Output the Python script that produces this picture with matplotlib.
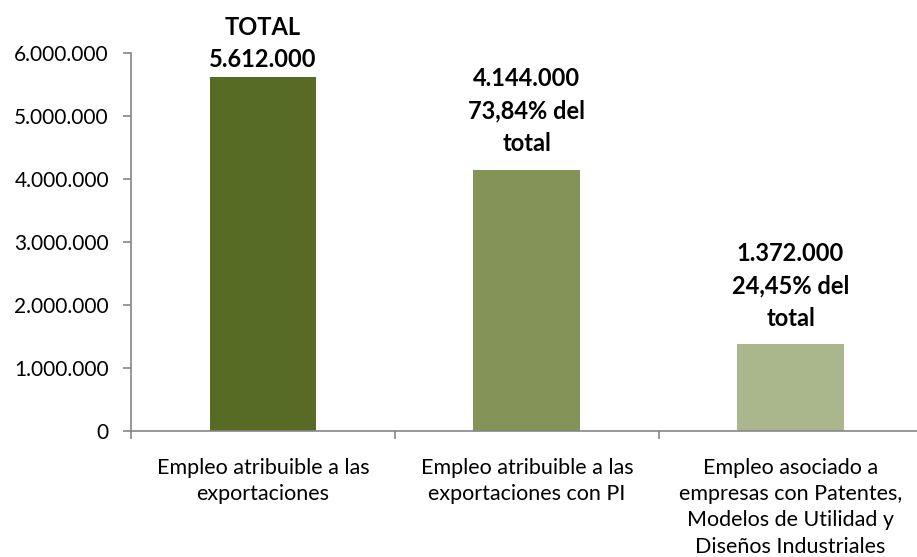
import matplotlib
matplotlib.use('Agg')
import matplotlib.pyplot as plt
from matplotlib.ticker import FuncFormatter

plt.rcParams['font.family'] = ['Lato', 'DejaVu Sans']

# Data
categories = [
    'Empleo atribuible a las\nexportaciones',
    'Empleo atribuible a las\nexportaciones con PI',
    'Empleo asociado a\nempresas con Patentes,\nModelos de Utilidad y\nDiseños Industriales',
]
values = [5612000, 4144000, 1372000]
bar_labels = [
    'TOTAL\n5.612.000',
    '4.144.000\n73,84% del\ntotal',
    '1.372.000\n24,45% del\ntotal',
]
colors = ['#586B24', '#849459', '#AAB68C']
yticks = [0, 1000000, 2000000, 3000000, 4000000, 5000000, 6000000]

AXIS_GREY = '#868686'

fig = plt.figure(figsize=(9.17, 5.57), dpi=100)
ax = fig.add_axes([0.143, 0.227, 0.863, 0.678])

x = list(range(len(values)))
bars = ax.bar(x, values, width=0.405, color=colors, edgecolor='none')

ax.set_xlim(-0.5, 2.5)
ax.set_ylim(0, 6000000)

ax.set_yticks(yticks)
ax.yaxis.set_major_formatter(FuncFormatter(lambda v, p: f'{int(v):,}'.replace(',', '.')))

# category ticks between bars, labels centered under bars
ax.set_xticks([-0.5, 0.5, 1.5, 2.5])
ax.set_xticklabels([])
ax.set_xticks(x, minor=True)
ax.set_xticklabels(categories, minor=True, fontsize=15.5, linespacing=1.38)
ax.tick_params(axis='x', which='minor', length=0, pad=20)
ax.tick_params(axis='x', which='major', length=6, color=AXIS_GREY, width=1.2)
ax.tick_params(axis='y', length=6, color=AXIS_GREY, width=1.2, labelsize=15, pad=10)

for side in ['top', 'right']:
    ax.spines[side].set_visible(False)
for side in ['left', 'bottom']:
    ax.spines[side].set_color(AXIS_GREY)
    ax.spines[side].set_linewidth(1.2)

for i, (b, lab) in enumerate(zip(bars, bar_labels)):
    # the tallest label sits a little closer to its bar so it fits the canvas
    gap = 100000 if i == 0 else 230000
    ax.text(b.get_x() + b.get_width() / 2, b.get_height() + gap, lab,
            ha='center', va='bottom', fontsize=17, fontweight='bold',
            linespacing=1.5, color='black')

fig.savefig('out.png', dpi=100, facecolor='white')
